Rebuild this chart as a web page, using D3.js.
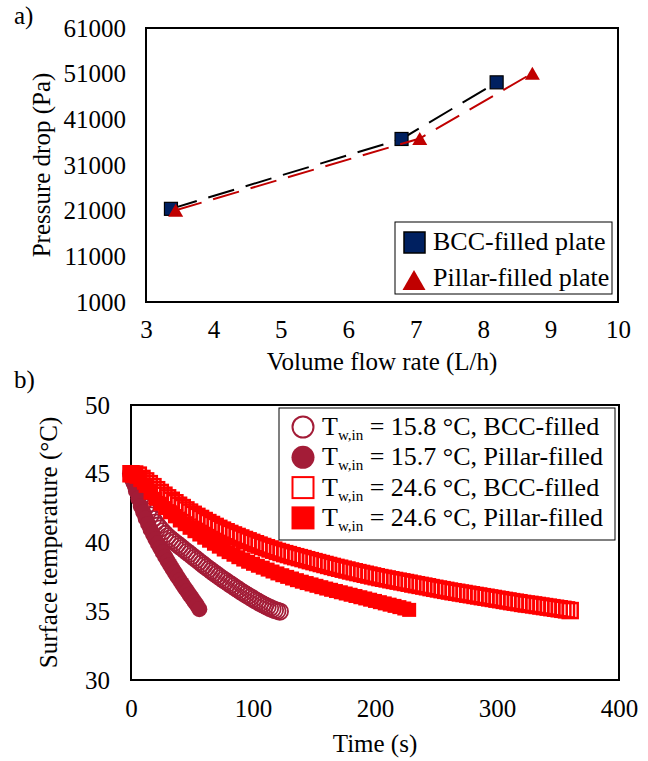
<!DOCTYPE html>
<html>
<head>
<meta charset="utf-8">
<script src="https://cdn.jsdelivr.net/npm/d3@7"></script>
<style>
  body { margin: 0; background: #fff; }
</style>
</head>
<body>
<svg width="648" height="761"></svg>
<script>
// ---------- panel a : pressure drop vs flow rate ----------
const flowBCC = [3.37, 6.79, 8.20];
const dropBCC = [21400, 36700, 49100];
const flowPillar = [3.44, 7.06, 8.73];
const dropPillar = [21100, 36800, 51100];
const flowTicks = [3, 4, 5, 6, 7, 8, 9, 10];
const dropTicks = [1000, 11000, 21000, 31000, 41000, 51000, 61000];
const legendA = ["BCC-filled plate", "Pillar-filled plate"];

// ---------- panel b : surface temperature vs time ----------
// sampling step (s) of each recorded series
const stepBccCold = 2;
const tempBccCold = [45.00, 44.55, 44.12, 43.70, 43.30, 42.92, 42.58, 42.26, 41.97, 41.70,
  41.45, 41.22, 41.01, 40.81, 40.62, 40.45, 40.30, 40.15, 40.01, 39.87,
  39.73, 39.59, 39.45, 39.31, 39.17, 39.03, 38.89, 38.75, 38.61, 38.47,
  38.33, 38.19, 38.06, 37.93, 37.80, 37.67, 37.54, 37.41, 37.29, 37.17,
  37.05, 36.93, 36.81, 36.69, 36.57, 36.45, 36.34, 36.23, 36.12, 36.01,
  35.90, 35.80, 35.70, 35.60, 35.50, 35.41, 35.32, 35.24, 35.16, 35.09,
  35.03, 34.98];

const stepPillarCold = 2;
const tempPillarCold = [45.00, 44.35, 43.75, 43.20, 42.65, 42.20, 41.75, 41.35, 40.95, 40.60,
  40.25, 39.92, 39.60, 39.28, 38.97, 38.67, 38.37, 38.08, 37.80, 37.52,
  37.25, 36.98, 36.72, 36.46, 36.20, 35.95, 35.70, 35.45, 35.15];

const stepBccWarm = 3;
const tempBccWarm = [45.00, 44.98, 44.90, 44.66, 44.48, 44.28, 44.06, 43.84, 43.64, 43.44,
  43.25, 43.07, 42.89, 42.71, 42.54, 42.37, 42.21, 42.05, 41.90, 41.75,
  41.60, 41.45, 41.31, 41.17, 41.03, 40.90, 40.78, 40.66, 40.55, 40.44,
  40.33, 40.22, 40.12, 40.01, 39.91, 39.81, 39.71, 39.62, 39.53, 39.44,
  39.35, 39.27, 39.19, 39.12, 39.04, 38.97, 38.90, 38.83, 38.75, 38.68,
  38.61, 38.54, 38.47, 38.40, 38.33, 38.26, 38.19, 38.13, 38.06, 38.00,
  37.93, 37.87, 37.81, 37.75, 37.69, 37.63, 37.57, 37.51, 37.45, 37.40,
  37.35, 37.29, 37.24, 37.19, 37.14, 37.09, 37.04, 36.98, 36.93, 36.88,
  36.83, 36.78, 36.72, 36.67, 36.62, 36.57, 36.52, 36.47, 36.42, 36.38,
  36.33, 36.29, 36.24, 36.20, 36.15, 36.11, 36.06, 36.02, 35.97, 35.93,
  35.88, 35.84, 35.79, 35.75, 35.70, 35.66, 35.62, 35.57, 35.53, 35.50,
  35.46, 35.42, 35.38, 35.34, 35.30, 35.26, 35.22, 35.18, 35.14, 35.10,
  35.05];

const stepPillarWarm = 4;
const tempPillarWarm = [45.00, 44.92, 44.62, 44.12, 43.62, 43.18, 42.82, 42.50, 42.20, 41.90,
  41.60, 41.33, 41.07, 40.82, 40.58, 40.35, 40.13, 39.91, 39.70, 39.49,
  39.30, 39.11, 38.93, 38.76, 38.60, 38.45, 38.31, 38.17, 38.03, 37.89,
  37.75, 37.62, 37.50, 37.38, 37.26, 37.15, 37.05, 36.95, 36.85, 36.75,
  36.65, 36.56, 36.47, 36.38, 36.29, 36.20, 36.11, 36.02, 35.93, 35.84,
  35.75, 35.66, 35.57, 35.48, 35.39, 35.30, 35.20, 35.10];

const timeTicks = [0, 100, 200, 300, 400];
const tempTicks = [30, 35, 40, 45, 50];
const legendTemps = ["15.8", "15.7", "24.6", "24.6"];
const legendKinds = ["BCC-filled", "Pillar-filled", "BCC-filled", "Pillar-filled"];

const serif = "'Liberation Serif', 'Times New Roman', Times, serif";
const fontSize = 25;
const legendFont = 26;

const svg = d3.select("svg")
    .attr("font-family", serif)
    .style("font-family", serif);

// helper: text in the chart font
function label(sel, size) {
    return sel.style("font-family", serif)
        .style("font-size", (size || fontSize) + "px")
        .style("fill", "#000");
}

// helper: axes without tick marks
function styleAxis(g) {
    g.attr("font-family", serif).attr("font-size", null);
    g.select(".domain").remove();
    g.selectAll("text").call(label);
}

function trianglePath(w, h) {
    return `M0,${-h / 2}L${w / 2},${h / 2}L${-w / 2},${h / 2}Z`;
}

// ================= panel a =================
const xA = d3.scaleLinear().domain([3, 10]).range([146, 618]);
const yA = d3.scaleLinear().domain([1000, 61000]).range([302, 28]);

svg.append("g")
    .attr("transform", `translate(${xA.range()[0]},0)`)
    .call(d3.axisLeft(yA).tickValues(dropTicks).tickFormat(d3.format("d")).tickSize(0).tickPadding(20))
    .call(styleAxis);

svg.append("g")
    .attr("transform", `translate(0,${yA.range()[0]})`)
    .call(d3.axisBottom(xA).tickValues(flowTicks).tickFormat(d3.format("d")).tickSize(0).tickPadding(18))
    .call(styleAxis);

svg.append("rect")
    .attr("x", xA(3)).attr("y", yA(61000))
    .attr("width", xA(10) - xA(3)).attr("height", yA(1000) - yA(61000))
    .attr("fill", "none").attr("stroke", "#000").attr("stroke-width", 2);

const seriesA = [
    { x: flowBCC, y: dropBCC, line: "#000", kind: "square" },
    { x: flowPillar, y: dropPillar, line: "#c00000", kind: "triangle" }
];

const lineA = d3.line().x(d => xA(d[0])).y(d => yA(d[1]));

seriesA.forEach(s => {
    const pts = d3.zip(s.x, s.y);
    svg.append("path")
        .attr("d", lineA(pts))
        .attr("fill", "none")
        .attr("stroke", s.line)
        .attr("stroke-width", 2)
        .attr("stroke-dasharray", "27,12");

    const g = svg.append("g");
    if (s.kind === "square") {
        g.selectAll("rect").data(pts).enter().append("rect")
            .attr("x", d => xA(d[0]) - 6.5).attr("y", d => yA(d[1]) - 6.5)
            .attr("width", 13).attr("height", 13)
            .attr("fill", "#002060").attr("stroke", "#000").attr("stroke-width", 1.2);
    } else {
        g.selectAll("path").data(pts).enter().append("path")
            .attr("transform", d => `translate(${xA(d[0])},${yA(d[1])})`)
            .attr("d", trianglePath(15, 13))
            .attr("fill", "#c00000");
    }
});

// legend a
const legA = svg.append("g");
legA.append("rect")
    .attr("x", 395).attr("y", 222).attr("width", 217).attr("height", 72)
    .attr("fill", "#fff").attr("stroke", "#000").attr("stroke-width", 1);
legA.append("rect")
    .attr("x", 404).attr("y", 232).attr("width", 21).attr("height", 21)
    .attr("fill", "#002060").attr("stroke", "#000").attr("stroke-width", 1.5);
legA.append("path")
    .attr("transform", "translate(414,280)")
    .attr("d", trianglePath(23, 20))
    .attr("fill", "#c00000");
legA.selectAll("text").data(legendA).enter().append("text")
    .attr("x", 433)
    .attr("y", (d, i) => 250 + i * 36)
    .call(label, legendFont)
    .text(d => d);

// axis titles a
svg.append("text")
    .attr("x", (xA(3) + xA(10)) / 2).attr("y", 370)
    .attr("text-anchor", "middle")
    .call(label)
    .text("Volume flow rate (L/h)");

svg.append("text")
    .attr("transform", `translate(41,${(yA(1000) + yA(61000)) / 2}) rotate(-90)`)
    .attr("text-anchor", "middle")
    .attr("dy", "0.35em")
    .call(label)
    .text("Pressure drop (Pa)");

svg.append("text").attr("x", 14).attr("y", 24)
    .call(label).text("a)");

// ================= panel b =================
const xB = d3.scaleLinear().domain([0, 400]).range([131, 619]);
const yB = d3.scaleLinear().domain([30, 50]).range([680, 405]);

svg.append("g")
    .attr("transform", `translate(${xB.range()[0]},0)`)
    .call(d3.axisLeft(yB).tickValues(tempTicks).tickFormat(d3.format("d")).tickSize(0).tickPadding(21))
    .call(styleAxis);

svg.append("g")
    .attr("transform", `translate(0,${yB.range()[0]})`)
    .call(d3.axisBottom(xB).tickValues(timeTicks).tickFormat(d3.format("d")).tickSize(0).tickPadding(19))
    .call(styleAxis);

svg.append("rect")
    .attr("x", xB(0)).attr("y", yB(50))
    .attr("width", xB(400) - xB(0)).attr("height", yB(30) - yB(50))
    .attr("fill", "none").attr("stroke", "#000").attr("stroke-width", 2);

const darkRed = "#a31c37";
const brightRed = "#ff0000";

function toPoints(temps, step) {
    return temps.map((v, i) => [i * step, v]);
}

const seriesB = [
    { pts: toPoints(tempBccCold, stepBccCold), shape: "circle", filled: false, color: darkRed },
    { pts: toPoints(tempPillarCold, stepPillarCold), shape: "circle", filled: true, color: darkRed },
    { pts: toPoints(tempBccWarm, stepBccWarm), shape: "square", filled: false, color: brightRed },
    { pts: toPoints(tempPillarWarm, stepPillarWarm), shape: "square", filled: true, color: brightRed }
];

seriesB.forEach(s => {
    const g = svg.append("g");
    if (s.shape === "circle") {
        g.selectAll("circle").data(s.pts).enter().append("circle")
            .attr("cx", d => xB(d[0])).attr("cy", d => yB(d[1]))
            .attr("r", s.filled ? 8 : 8.2)
            .attr("fill", s.filled ? s.color : "none")
            .attr("stroke", s.color)
            .attr("stroke-width", s.filled ? 0 : 1.8);
    } else {
        const side = s.filled ? 14 : 15;
        g.selectAll("rect").data(s.pts).enter().append("rect")
            .attr("x", d => xB(d[0]) - side / 2).attr("y", d => yB(d[1]) - side / 2)
            .attr("width", side).attr("height", side)
            .attr("fill", s.filled ? s.color : "none")
            .attr("stroke", s.color)
            .attr("stroke-width", s.filled ? 0 : 2.5);
    }
});

// legend b
const legB = svg.append("g");
legB.append("rect")
    .attr("x", 279).attr("y", 408).attr("width", 336).attr("height", 132)
    .attr("fill", "#fff").attr("stroke", "#000").attr("stroke-width", 1);

seriesB.forEach((s, i) => {
    const cy = 427 + i * 30.3;
    if (s.shape === "circle") {
        legB.append("circle")
            .attr("cx", 303).attr("cy", cy).attr("r", s.filled ? 11.5 : 10.5)
            .attr("fill", s.filled ? s.color : "none")
            .attr("stroke", s.color).attr("stroke-width", s.filled ? 0 : 2);
    } else {
        const side = s.filled ? 23 : 21;
        legB.append("rect")
            .attr("x", 303 - side / 2).attr("y", cy - side / 2)
            .attr("width", side).attr("height", side)
            .attr("fill", s.filled ? s.color : "none")
            .attr("stroke", s.color).attr("stroke-width", s.filled ? 0 : 2);
    }
    const t = legB.append("text")
        .attr("x", 322).attr("y", cy + 8)
        .call(label, legendFont);
    t.append("tspan").text("T");
    t.append("tspan").attr("dy", 5).style("font-size", "15px").text("w,in");
    t.append("tspan").attr("dy", -5).text(` = ${legendTemps[i]} °C, ${legendKinds[i]}`);
});

// axis titles b
svg.append("text")
    .attr("x", (xB(0) + xB(400)) / 2).attr("y", 752)
    .attr("text-anchor", "middle")
    .call(label)
    .text("Time (s)");

svg.append("text")
    .attr("transform", `translate(48,${(yB(30) + yB(50)) / 2}) rotate(-90)`)
    .attr("text-anchor", "middle")
    .attr("dy", "0.35em")
    .call(label)
    .text("Surface temperature (°C)");

svg.append("text").attr("x", 14).attr("y", 388)
    .call(label).text("b)");
</script>
</body>
</html>
